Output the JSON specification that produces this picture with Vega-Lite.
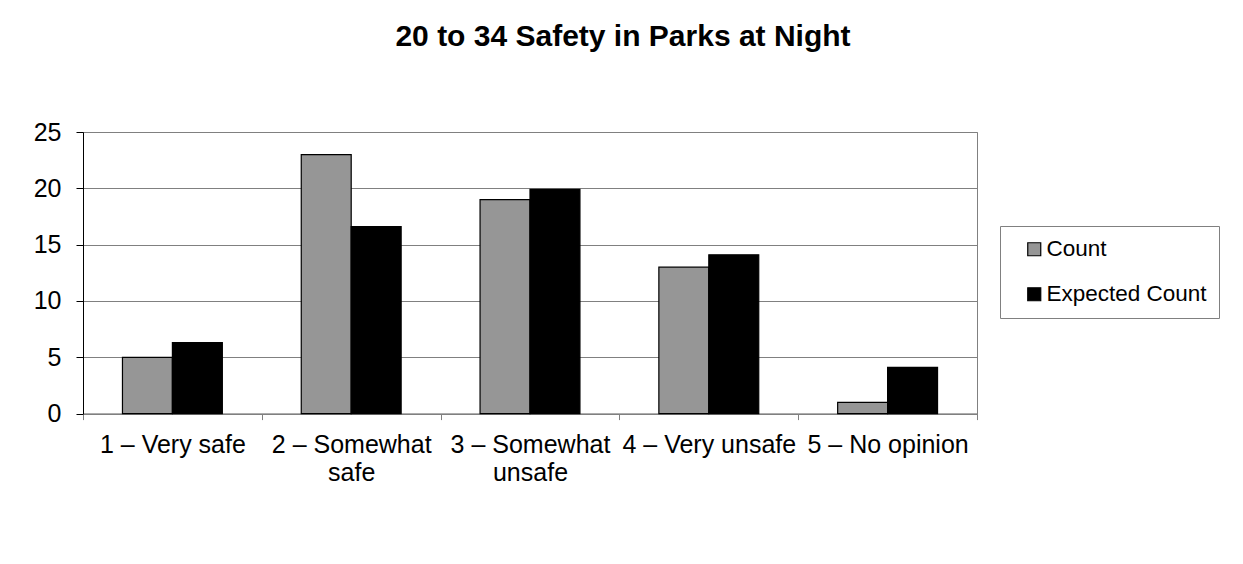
{
  "$schema": "https://vega.github.io/schema/vega-lite/v6.json",
  "autosize": "none",
  "width": 894,
  "height": 281.6,
  "padding": {"left": 83, "top": 132, "right": 266, "bottom": 150.4},
  "background": "white",
  "title": {
    "text": "20 to 34 Safety in Parks at Night",
    "font": "Liberation Sans",
    "fontSize": 30,
    "fontWeight": "bold",
    "color": "#000000",
    "anchor": "middle",
    "frame": "group",
    "baseline": "alphabetic",
    "offset": 44,
    "dx": 93
  },
  "config": {
    "view": {"stroke": "#808080", "strokeWidth": 1},
    "font": "Liberation Sans"
  },
  "data": {
    "values": [
      {"category": "1 – Very safe", "series": "Count", "value": 5},
      {"category": "1 – Very safe", "series": "Expected Count", "value": 6.3},
      {"category": "2 – Somewhat safe", "series": "Count", "value": 23},
      {"category": "2 – Somewhat safe", "series": "Expected Count", "value": 16.6},
      {"category": "3 – Somewhat unsafe", "series": "Count", "value": 19},
      {"category": "3 – Somewhat unsafe", "series": "Expected Count", "value": 19.9},
      {"category": "4 – Very unsafe", "series": "Count", "value": 13},
      {"category": "4 – Very unsafe", "series": "Expected Count", "value": 14.1},
      {"category": "5 – No opinion", "series": "Count", "value": 1},
      {"category": "5 – No opinion", "series": "Expected Count", "value": 4.1}
    ]
  },
  "mark": {"type": "bar", "stroke": "#000000", "strokeWidth": 1.2},
  "encoding": {
    "x": {
      "field": "category",
      "type": "nominal",
      "sort": null,
      "scale": {"paddingInner": 0, "paddingOuter": 0},
      "axis": {
        "title": null,
        "labelAngle": 0,
        "labelFont": "Liberation Sans",
        "labelFontSize": 25,
        "labelColor": "#000000",
        "labelPadding": 13,
        "labelLimit": 400,
        "labelLineHeight": 27.5,
        "labelExpr": "datum.value == '2 – Somewhat safe' ? ['2 – Somewhat', 'safe'] : datum.value == '3 – Somewhat unsafe' ? ['3 – Somewhat', 'unsafe'] : datum.value",
        "tickBand": "extent",
        "tickSize": 6,
        "tickColor": "#808080",
        "domainColor": "#808080",
        "grid": false
      }
    },
    "xOffset": {
      "field": "series",
      "type": "nominal",
      "scale": {"paddingInner": 0, "paddingOuter": 0.79}
    },
    "y": {
      "field": "value",
      "type": "quantitative",
      "scale": {"domain": [0, 25], "nice": false},
      "axis": {
        "title": null,
        "values": [0, 5, 10, 15, 20, 25],
        "labelFont": "Liberation Sans",
        "labelFontSize": 25,
        "labelColor": "#000000",
        "labelPadding": 15,
        "tickSize": 7,
        "tickColor": "#000000",
        "domainColor": "#000000",
        "grid": true,
        "gridColor": "#808080",
        "gridWidth": 1
      }
    },
    "color": {
      "field": "series",
      "type": "nominal",
      "scale": {"domain": ["Count", "Expected Count"], "range": ["#969696", "#000000"]},
      "legend": {
        "title": null,
        "orient": "none",
        "legendX": 917,
        "legendY": 94,
        "symbolType": "square",
        "symbolSize": 169,
        "symbolStrokeColor": "#000000",
        "symbolStrokeWidth": 1.2,
        "symbolOffset": 11,
        "labelFont": "Liberation Sans",
        "labelFontSize": 22.5,
        "labelColor": "#000000",
        "labelOffset": 1,
        "labelLimit": 400,
        "rowPadding": 22,
        "padding": 12,
        "strokeColor": "#808080",
        "fillColor": "#ffffff"
      }
    }
  }
}
